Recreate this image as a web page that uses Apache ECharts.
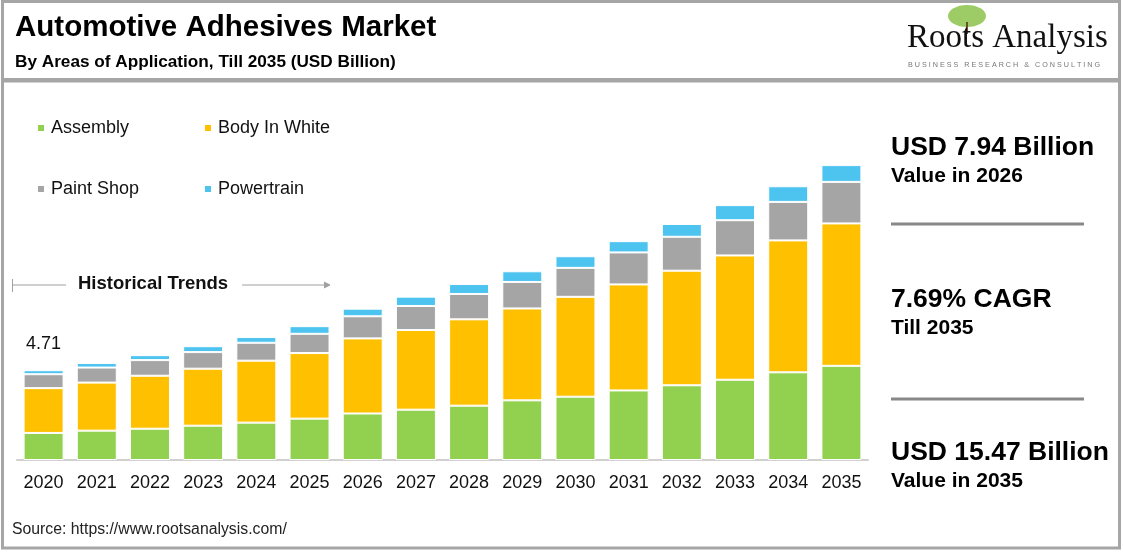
<!DOCTYPE html>
<html>
<head>
<meta charset="utf-8">
<title>Automotive Adhesives Market</title>
<script src="https://cdn.jsdelivr.net/npm/echarts@6/dist/echarts.min.js"></script>
<style>
  html, body { margin: 0; padding: 0; background: #fff; }
  #chart { width: 1123px; height: 553px; }
</style>
</head>
<body>
<div id="chart"></div>
<script>
// values (USD Billion)
const years = ['2020', '2021', '2022', '2023', '2024', '2025', '2026', '2027',
  '2028', '2029', '2030', '2031', '2032', '2033', '2034', '2035']
const assembly = [1.42, 1.54, 1.64, 1.80, 1.96, 2.17, 2.44, 2.64, 2.85, 3.13, 3.32, 3.65, 3.92, 4.21, 4.60, 4.94]
const bodyInWhite = [2.35, 2.52, 2.78, 2.99, 3.25, 3.44, 3.94, 4.18, 4.53, 4.82, 5.24, 5.56, 6.01, 6.52, 6.92, 7.47]
const paintShop = [0.73, 0.79, 0.82, 0.87, 0.94, 1.01, 1.16, 1.26, 1.33, 1.39, 1.52, 1.68, 1.78, 1.85, 2.02, 2.18]
const powertrain = [0.21, 0.24, 0.26, 0.31, 0.30, 0.40, 0.40, 0.49, 0.52, 0.56, 0.61, 0.59, 0.67, 0.79, 0.82, 0.88]
const firstTotal = '4.71'

const font = 'Arial, "Liberation Sans", sans-serif'
const colors = {
  Assembly: '#92D050',
  'Body In White': '#FFC000',
  'Paint Shop': '#A5A5A5',
  Powertrain: '#4DC3F0'
}

const chart = echarts.init(document.getElementById('chart'))

const barSeries = (name, data) => ({
  name,
  type: 'bar',
  stack: 'total',
  barWidth: 40,
  data,
  itemStyle: { color: colors[name], borderColor: '#fff', borderWidth: 1 }
})

// one legend per entry so each can sit where the reference puts it
const legendAt = (name, left, top) => ({
  data: [name],
  left,
  top,
  icon: 'rect',
  itemWidth: 8,
  itemHeight: 8,
  itemGap: 0,
  textStyle: { fontFamily: font, fontSize: 18, color: '#111', padding: [0, 0, 0, 1] }
})

const lastSeries = barSeries('Powertrain', powertrain.map((v, i) => {
  if (i !== 0) return v
  return {
    value: v,
    label: {
      show: true,
      position: 'top',
      distance: 17,
      formatter: firstTotal,
      fontFamily: font,
      fontSize: 18,
      color: '#111'
    }
  }
}))

const rightText = (text, top, size) => ({
  type: 'text',
  left: 891,
  top,
  style: { text, fontFamily: font, fontWeight: 'bold', fontSize: size, fill: '#000' }
})

chart.setOption({
  animation: false,
  title: [
    {
      text: 'Automotive Adhesives Market',
      left: 10,
      top: 8,
      textStyle: { fontFamily: font, fontWeight: 'bold', fontSize: 29.5, color: '#000' }
    },
    {
      text: 'By Areas of Application, Till 2035 (USD Billion)',
      left: 10,
      top: 49,
      textStyle: { fontFamily: font, fontWeight: 'bold', fontSize: 17.2, color: '#000' }
    }
  ],
  legend: [
    legendAt('Assembly', 31, 114),
    legendAt('Body In White', 198, 114),
    legendAt('Paint Shop', 31, 175),
    legendAt('Powertrain', 198, 175)
  ],
  grid: { left: 17, right: 255, top: 155, bottom: 93 },
  xAxis: {
    type: 'category',
    data: years,
    axisTick: { show: false },
    axisLine: { lineStyle: { color: '#d0d0d0', width: 2 } },
    axisLabel: { fontFamily: font, fontSize: 18, color: '#111', margin: 14 }
  },
  yAxis: { type: 'value', min: 0, max: 16, show: false },
  series: [
    barSeries('Assembly', assembly),
    barSeries('Body In White', bodyInWhite),
    barSeries('Paint Shop', paintShop),
    lastSeries
  ],
  graphic: [
    // frame
    { type: 'rect', shape: { x: 2.5, y: 1.5, width: 1117, height: 78 }, style: { fill: 'none', stroke: '#a6a6a6', lineWidth: 3 } },
    { type: 'rect', shape: { x: 2.5, y: 81, width: 1117, height: 467 }, style: { fill: 'none', stroke: '#a6a6a6', lineWidth: 3 } },
    // logo
    { type: 'ellipse', shape: { cx: 967, cy: 16, rx: 19, ry: 11 }, style: { fill: '#8cc24a', opacity: 0.85 } },
    { type: 'line', shape: { x1: 967, y1: 22, x2: 967, y2: 34 }, style: { stroke: '#6b4f2a', lineWidth: 2 } },
    {
      type: 'text', left: 907, top: 22,
      style: { text: 'Roots Analysis', fontFamily: '"Liberation Serif", "Times New Roman", serif', fontSize: 33, fill: '#111' }
    },
    {
      type: 'text', left: 908, top: 62,
      style: { text: 'B U S I N E S S   R E S E A R C H   &   C O N S U L T I N G', fontFamily: font, fontSize: 7.2, fill: '#777' }
    },
    // historical trends marker
    { type: 'line', shape: { x1: 12, y1: 285, x2: 66, y2: 285 }, style: { stroke: '#a0a0a0', lineWidth: 1 } },
    { type: 'line', shape: { x1: 12.5, y1: 279, x2: 12.5, y2: 292 }, style: { stroke: '#a0a0a0', lineWidth: 1 } },
    { type: 'line', shape: { x1: 242, y1: 285, x2: 329, y2: 285 }, style: { stroke: '#a0a0a0', lineWidth: 1 } },
    { type: 'polyline', shape: { points: [[324, 282], [330, 285], [324, 288]] }, style: { fill: '#a0a0a0', stroke: '#a0a0a0', lineWidth: 1 } },
    {
      type: 'text', left: 78, top: 274,
      style: { text: 'Historical Trends', fontFamily: font, fontWeight: 'bold', fontSize: 18.5, fill: '#111' }
    },
    // right-hand highlights
    rightText('USD 7.94 Billion', 134, 26.5),
    rightText('Value in 2026', 166, 21),
    { type: 'line', shape: { x1: 891, y1: 224, x2: 1084, y2: 224 }, style: { stroke: '#888', lineWidth: 3 } },
    rightText('7.69% CAGR', 286, 26.5),
    rightText('Till 2035', 318, 21),
    { type: 'line', shape: { x1: 891, y1: 399, x2: 1084, y2: 399 }, style: { stroke: '#888', lineWidth: 3 } },
    rightText('USD 15.47 Billion', 439, 26.5),
    rightText('Value in 2035', 471, 21),
    // source
    {
      type: 'text', left: 12, top: 522,
      style: { text: 'Source: https://www.rootsanalysis.com/', fontFamily: font, fontSize: 15.8, fill: '#222' }
    }
  ]
})
</script>
</body>
</html>
